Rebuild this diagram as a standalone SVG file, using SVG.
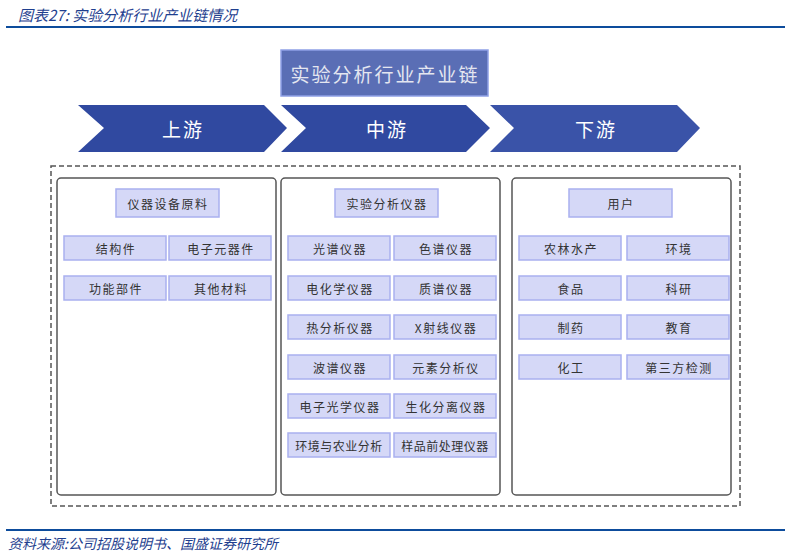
<svg xmlns="http://www.w3.org/2000/svg" width="791" height="555" viewBox="0 0 791 555">
<style>
text{font-family:"Noto Sans CJK SC","Noto Sans",sans-serif;text-anchor:middle;dominant-baseline:central}
.it rect{fill:#d5d8f7;stroke:#a9b0ef;stroke-width:1.5}
.it text{font-size:12px;fill:#333;letter-spacing:1.5px}
.pn{fill:#fff;stroke:#555;stroke-width:1.5}
.ch{fill:#3049a0}
.ch2 text{font-size:19px;fill:#fff;letter-spacing:2px}
</style>
<rect width="791" height="555" fill="#fff"/>
<text x="18" y="14" style="text-anchor:start;font-size:15px;font-style:italic;fill:#1f3f8f">图表27:  实验分析行业产业链情况</text>
<rect x="6" y="26" width="779" height="2" fill="#0d4c9c"/>
<rect x="6" y="529" width="779" height="2" fill="#0d4c9c"/>
<text x="8" y="543" style="text-anchor:start;font-size:14px;font-style:italic;fill:#1f3f8f">资料来源:公司招股说明书、国盛证券研究所</text>
<g id="title"><rect x="281" y="50" width="207" height="46" fill="#5a6eb5" stroke="#8fa0e6" stroke-width="1.5"/><text x="385" y="73" style="font-size:19px;fill:#e4e6f0;letter-spacing:2px">实验分析行业产业链</text></g>
<g id="up" class="ch2"><polygon class="ch" points="78,105 264,105 287,128 264,152 78,152 104,128"/><text x="183" y="128">上游</text></g>
<g id="mid" class="ch2"><polygon class="ch" points="281,105 466,105 490,128 466,152 281,152 306,128"/><text x="387" y="128">中游</text></g>
<g id="down" class="ch2"><polygon points="490,105 677,105 700,128 677,152 490,152 514,128" fill="#3a53a8"/><text x="596" y="128">下游</text></g>
<rect x="51" y="166" width="689" height="340" fill="none" stroke="#555" stroke-width="1.5" stroke-dasharray="5,3"/>
<rect class="pn" x="57" y="178" width="219" height="317" rx="4"/>
<rect class="pn" x="281" y="178" width="219" height="317" rx="4"/>
<rect class="pn" x="512" y="178" width="219" height="317" rx="4"/>
<g id="h1" class="it"><rect x="116" y="189" width="103" height="28"/><text x="168" y="203">仪器设备原料</text></g>
<g id="h2" class="it"><rect x="335" y="189" width="103" height="28"/><text x="387" y="203">实验分析仪器</text></g>
<g id="h3" class="it"><rect x="569" y="189" width="103" height="28"/><text x="621" y="203">用户</text></g>
<g id="l1" class="it"><rect x="64" y="236" width="102" height="24"/><text x="116" y="248">结构件</text></g>
<g id="l2" class="it"><rect x="169" y="236" width="102" height="24"/><text x="221" y="248">电子元器件</text></g>
<g id="l3" class="it"><rect x="64" y="276" width="102" height="24"/><text x="116" y="288">功能部件</text></g>
<g id="l4" class="it"><rect x="169" y="276" width="102" height="24"/><text x="221" y="288">其他材料</text></g>
<g id="m1" class="it"><rect x="288" y="236" width="102" height="24"/><text x="340" y="248">光谱仪器</text></g>
<g id="m2" class="it"><rect x="394" y="236" width="102" height="24"/><text x="446" y="248">色谱仪器</text></g>
<g id="m3" class="it"><rect x="288" y="276" width="102" height="24"/><text x="340" y="288">电化学仪器</text></g>
<g id="m4" class="it"><rect x="394" y="276" width="102" height="24"/><text x="446" y="288">质谱仪器</text></g>
<g id="m5" class="it"><rect x="288" y="315" width="102" height="24"/><text x="340" y="327">热分析仪器</text></g>
<g id="m6" class="it"><rect x="394" y="315" width="102" height="24"/><text x="446" y="327">X射线仪器</text></g>
<g id="m7" class="it"><rect x="288" y="355" width="102" height="24"/><text x="340" y="367">波谱仪器</text></g>
<g id="m8" class="it"><rect x="394" y="355" width="102" height="24"/><text x="446" y="367">元素分析仪</text></g>
<g id="m9" class="it"><rect x="288" y="394" width="102" height="24"/><text x="340" y="406">电子光学仪器</text></g>
<g id="m10" class="it"><rect x="394" y="394" width="102" height="24"/><text x="446" y="406">生化分离仪器</text></g>
<g id="m11" class="it"><rect x="288" y="433" width="102" height="24"/><text x="339" y="445" style="letter-spacing:0.5px">环境与农业分析</text></g>
<g id="m12" class="it"><rect x="394" y="433" width="102" height="24"/><text x="445" y="445" style="letter-spacing:0.5px">样品前处理仪器</text></g>
<g id="r1" class="it"><rect x="519" y="236" width="102" height="24"/><text x="571" y="248">农林水产</text></g>
<g id="r2" class="it"><rect x="627" y="236" width="102" height="24"/><text x="679" y="248">环境</text></g>
<g id="r3" class="it"><rect x="519" y="276" width="102" height="24"/><text x="571" y="288">食品</text></g>
<g id="r4" class="it"><rect x="627" y="276" width="102" height="24"/><text x="679" y="288">科研</text></g>
<g id="r5" class="it"><rect x="519" y="315" width="102" height="24"/><text x="571" y="327">制药</text></g>
<g id="r6" class="it"><rect x="627" y="315" width="102" height="24"/><text x="679" y="327">教育</text></g>
<g id="r7" class="it"><rect x="519" y="355" width="102" height="24"/><text x="571" y="367">化工</text></g>
<g id="r8" class="it"><rect x="627" y="355" width="102" height="24"/><text x="679" y="367">第三方检测</text></g>
<g id="connectors"/>
</svg>
